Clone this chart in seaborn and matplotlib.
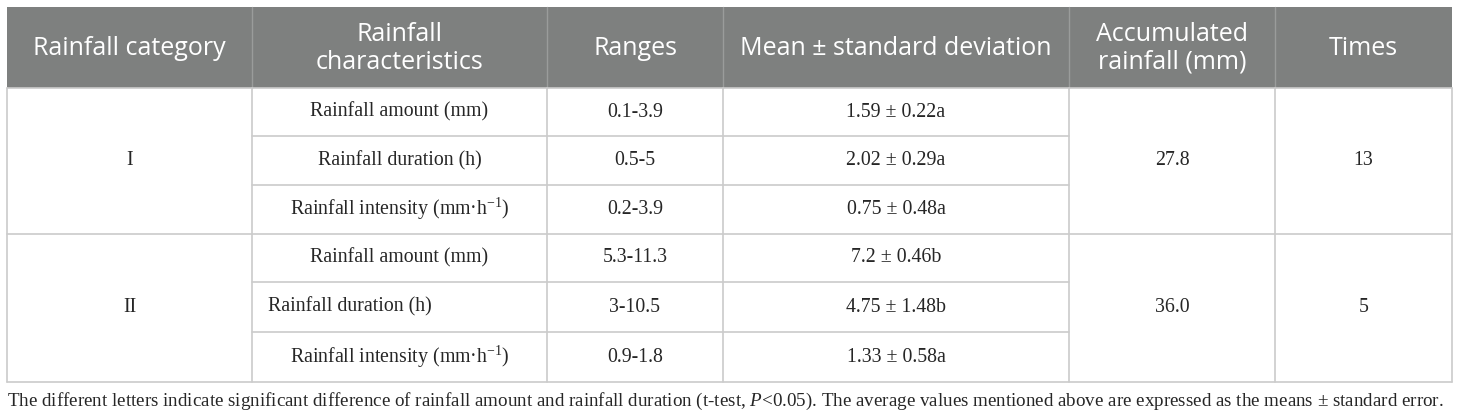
import matplotlib.pyplot as plt
import seaborn as sns

sns.set_theme(style="white")
plt.rcParams['mathtext.fontset'] = 'custom'
plt.rcParams['mathtext.rm'] = 'Liberation Serif'
plt.rcParams['mathtext.it'] = 'Liberation Serif:italic'

# Table content
headers = ["Rainfall category", "Rainfall\ncharacteristics", "Ranges",
           "Mean ± standard deviation", "Accumulated\nrainfall (mm)", "Times"]
categories = ["I", "II"]
characteristics = ["Rainfall amount (mm)", "Rainfall duration (h)",
                   r"Rainfall intensity (mm·h$^{-1}$)"]
ranges = [["0.1-3.9", "0.5-5", "0.2-3.9"],
          ["5.3-11.3", "3-10.5", "0.9-1.8"]]
means = [["1.59 ± 0.22a", "2.02 ± 0.29a", "0.75 ± 0.48a"],
         ["7.2 ± 0.46b", "4.75 ± 1.48b", "1.33 ± 0.58a"]]
accumulated = ["27.8", "36.0"]
times = ["13", "5"]
footnote = ("The different letters indicate significant difference of rainfall amount and "
            "rainfall duration (t-test, $P$<0.05). The average values mentioned above are "
            "expressed as the means ± standard error.")

# layout (pixels)
col_x = [7, 252, 547, 723, 1069, 1275, 1452]
row_y = [7, 88, 136.5, 185, 233.5, 282, 332, 382]
header_color = "#7e807f"
grid_color = "#cbcbcb"
sans = "Open Sans"
serif = "Liberation Serif"

fig = plt.figure(figsize=(14.6, 4.15), dpi=100)
ax = fig.add_axes([0, 0, 1, 1])
ax.set_xlim(0, 1460)
ax.set_ylim(415, 0)
ax.axis("off")

# header band
ax.add_patch(plt.Rectangle((col_x[0], row_y[0]), col_x[-1] - col_x[0], row_y[1] - row_y[0],
                           color=header_color, lw=0))
for x in col_x[1:-1]:
    ax.plot([x, x], [row_y[0], row_y[1]], color="#9a9c9b", lw=1)
for i, h in enumerate(headers):
    ax.text((col_x[i] + col_x[i + 1]) / 2, (row_y[0] + row_y[1]) / 2 + 1, h,
            ha="center", va="center", color="white", fontsize=18, family=sans,
            linespacing=1.15)

# grid lines of the body
for x in col_x:
    ax.plot([x, x], [row_y[1], row_y[-1]], color=grid_color, lw=1.2)
for k, y in enumerate(row_y[1:]):
    if k in (0, 3, 6):
        ax.plot([col_x[0], col_x[-1]], [y, y], color=grid_color, lw=1.2)
    else:
        ax.plot([col_x[1], col_x[4]], [y, y], color=grid_color, lw=1.2)

body = dict(fontsize=14.3, family=serif, color="#262626", va="center")
for g in range(2):
    top = row_y[1 + 3 * g]
    bot = row_y[4 + 3 * g]
    mid = (top + bot) / 2
    ax.text((col_x[0] + col_x[1]) / 2, mid, categories[g], ha="center", **body)
    ax.text((col_x[4] + col_x[5]) / 2, mid, accumulated[g], ha="center", **body)
    ax.text((col_x[5] + col_x[6]) / 2, mid, times[g], ha="center", **body)
    for r in range(3):
        yc = (row_y[1 + 3 * g + r] + row_y[2 + 3 * g + r]) / 2
        if g == 1 and r == 1:
            ax.text(col_x[1] + 16, yc, characteristics[r], ha="left", **body)
        else:
            ax.text((col_x[1] + col_x[2]) / 2, yc, characteristics[r], ha="center", **body)
        ax.text((col_x[2] + col_x[3]) / 2, yc, ranges[g][r], ha="center", **body)
        ax.text((col_x[3] + col_x[4]) / 2, yc, means[g][r], ha="center", **body)

ax.text(col_x[0], 401, footnote, ha="left", va="center", fontsize=13.7, family=serif,
        color="#262626")

fig.savefig("out.png", dpi=100)
